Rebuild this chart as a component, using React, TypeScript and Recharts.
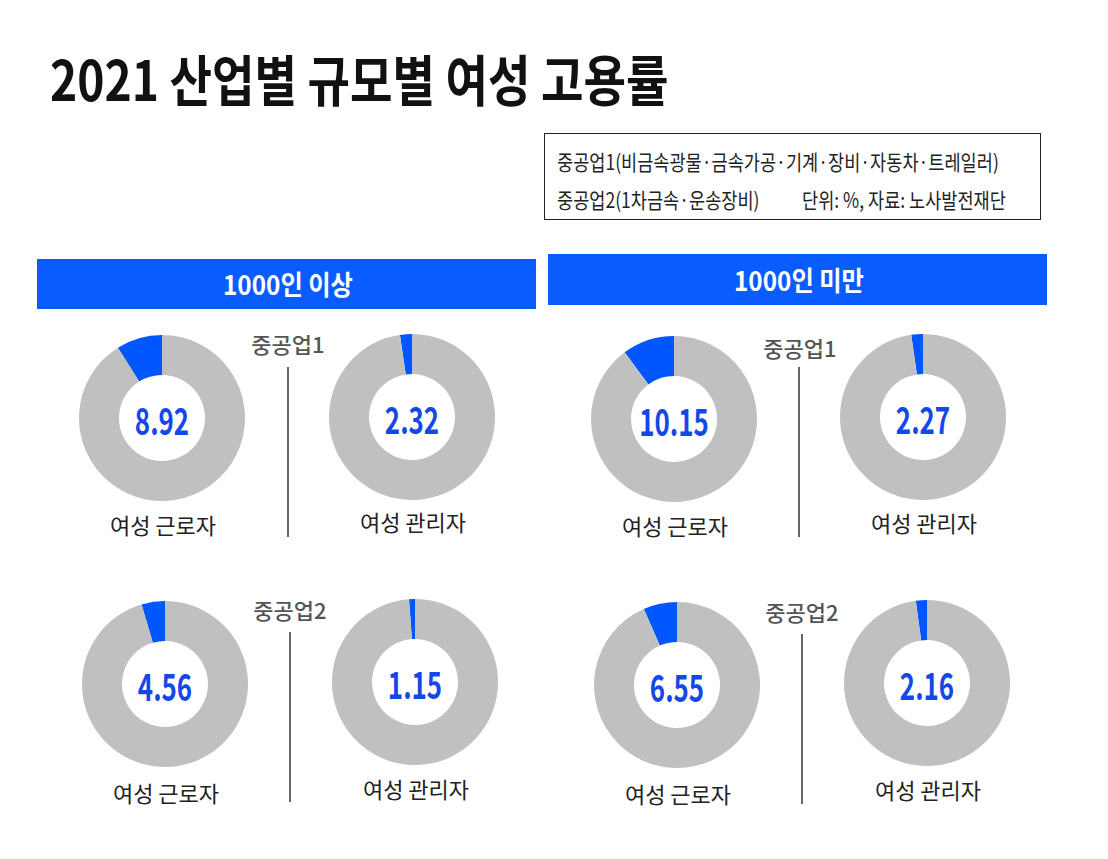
import React from 'react';
import { PieChart, Pie, Cell } from 'recharts';

// ---- data ----
const title = '2021 산업별 규모별 여성 고용률';
const noteLine1 = '중공업1(비금속광물·금속가공·기계·장비·자동차·트레일러)';
const noteLine2a = '중공업2(1차금속·운송장비)';
const noteLine2b = '단위: %, 자료: 노사발전재단';
const sizeGroups = ['1000인 이상', '1000인 미만'];
const industries = ['중공업1', '중공업2'];
const roles = ['여성 근로자', '여성 관리자'];
// values[size][industry][role]
const large1 = [8.92, 2.32];
const large2 = [4.56, 1.15];
const small1 = [10.15, 2.27];
const small2 = [6.55, 2.16];
const values = [
  [large1, large2],
  [small1, small2],
];

// ---- layout ----
const W = 1108;
const H = 859;
const BLUE = '#0a5cff';
const SLICE = '#0057ff';
const GRAY = '#c0c0c0';
const VAL = '#1448e6';
const FONT = '"Noto Sans CJK KR", "Noto Sans", sans-serif';

const bars = [
  { x: 37, y: 259, w: 499, h: 50, tx: 288, ty: 283 },
  { x: 548, y: 254, w: 499, h: 51, tx: 799, ty: 279 },
];
// groups: [size][industry]
const groups = [
  [
    { d: [[162, 418], [412, 417]], lab: [288, 343], line: [288, 367, 537], ny: [524, 521] },
    { d: [[165, 684], [415, 682]], lab: [290, 609], line: [290, 632, 802], ny: [792, 788] },
  ],
  [
    { d: [[674, 419], [923, 417]], lab: [800, 347], line: [799, 367, 537], ny: [525, 522] },
    { d: [[677, 685], [927, 683]], lab: [802, 611], line: [802, 634, 804], ny: [793, 789] },
  ],
];

const T = (p: {
  x: number; y: number; size: number; color: string; weight?: number; sx?: number;
  anchor?: 'c' | 'l'; children: React.ReactNode;
}) => (
  <div
    style={{
      position: 'absolute',
      left: p.x,
      top: p.y,
      fontFamily: FONT,
      fontSize: p.size,
      fontWeight: p.weight ?? 400,
      color: p.color,
      lineHeight: 1,
      whiteSpace: 'nowrap',
      transform:
        p.anchor === 'l'
          ? `translateY(-50%) scaleX(${p.sx ?? 1})`
          : `translate(-50%, -50%) scaleX(${p.sx ?? 1})`,
      transformOrigin: p.anchor === 'l' ? 'left center' : 'center center',
    }}
  >
    {p.children}
  </div>
);

export default function App() {
  const pies: React.ReactNode[] = [];
  const texts: React.ReactNode[] = [];
  values.forEach((sizeVals, si) => {
    sizeVals.forEach((indVals, ii) => {
      const g = groups[si][ii];
      indVals.forEach((v, ri) => {
        const [cx, cy] = g.d[ri];
        const data = [
          { name: roles[ri], value: v },
          { name: '기타', value: 100 - v },
        ];
        pies.push(
          <Pie
            key={`p-${si}-${ii}-${ri}`}
            data={data}
            dataKey="value"
            cx={cx}
            cy={cy}
            innerRadius={43}
            outerRadius={83}
            startAngle={90}
            endAngle={450}
            stroke="none"
            isAnimationActive={false}
          >
            <Cell fill={SLICE} />
            <Cell fill={GRAY} />
          </Pie>
        );
        texts.push(
          <T key={`v-${si}-${ii}-${ri}`} x={cx} y={cy + 1} size={37} weight={700} color={VAL} sx={0.7}>
            {v.toFixed(2)}
          </T>
        );
        texts.push(
          <T key={`n-${si}-${ii}-${ri}`} x={cx + 1} y={g.ny[ri]} size={22} color="#222" sx={1.0}>
            {roles[ri]}
          </T>
        );
      });
      texts.push(
        <T key={`g-${si}-${ii}`} x={g.lab[0]} y={g.lab[1]} size={22} weight={500} color="#555" sx={1.0}>
          {industries[ii]}
        </T>
      );
      texts.push(
        <div
          key={`l-${si}-${ii}`}
          style={{
            position: 'absolute',
            left: g.line[0] - 1,
            top: g.line[1],
            width: 2,
            height: g.line[2] - g.line[1],
            background: '#666',
          }}
        />
      );
    });
  });

  return (
    <div
      style={{
        position: 'fixed',
        left: 0,
        top: 0,
        width: W,
        height: H,
        background: '#fff',
        overflow: 'hidden',
      }}
    >
      <T x={50} y={77} size={55} weight={700} color="#111" sx={0.84} anchor="l">
        {title}
      </T>
      <div
        style={{
          position: 'absolute',
          left: 544,
          top: 133,
          width: 497,
          height: 87,
          border: '1.5px solid #222',
          boxSizing: 'border-box',
        }}
      />
      <T x={557} y={161} size={21} color="#222" sx={0.835} anchor="l">
        {noteLine1}
      </T>
      <T x={557} y={199} size={21} color="#222" sx={0.835} anchor="l">
        {noteLine2a}
      </T>
      <T x={802} y={199} size={21} color="#222" sx={0.835} anchor="l">
        {noteLine2b}
      </T>
      {bars.map((b, i) => (
        <React.Fragment key={`b-${i}`}>
          <div
            style={{ position: 'absolute', left: b.x, top: b.y, width: b.w, height: b.h, background: BLUE }}
          />
          <T x={b.tx} y={b.ty} size={27} weight={700} color="#fff" sx={0.9}>
            {sizeGroups[i]}
          </T>
        </React.Fragment>
      ))}
      <div style={{ position: 'absolute', left: 0, top: 0 }}>
        <PieChart width={W} height={H} margin={{ top: 0, right: 0, bottom: 0, left: 0 }}>
          {pies}
        </PieChart>
      </div>
      {texts}
    </div>
  );
}
